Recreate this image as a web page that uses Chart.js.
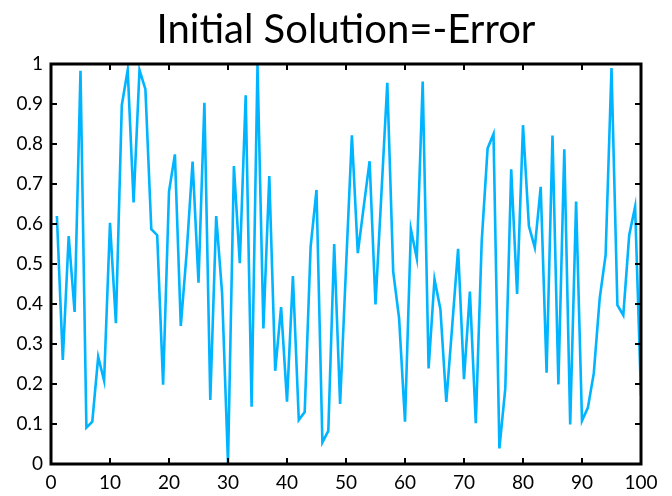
<!DOCTYPE html>
<html>
<head>
<meta charset="utf-8">
<script src="https://cdn.jsdelivr.net/npm/chart.js@4/dist/chart.umd.min.js"></script>
<style>
  html, body { margin: 0; padding: 0; background: #fff; }
  #wrap { width: 672px; height: 496px; position: relative; }
</style>
</head>
<body>
<div id="wrap"><canvas id="errChart"></canvas></div>
<script>
// iteration index (1..100) and error values
const iterations = Array.from({ length: 100 }, (_, i) => i + 1);
const errorValues = [
  0.62, 0.26, 0.57, 0.38, 0.983, 0.091, 0.106, 0.268, 0.208, 0.603,
  0.352, 0.897, 0.985, 0.654, 0.985, 0.937, 0.587, 0.572, 0.198, 0.681,
  0.774, 0.345, 0.53, 0.756, 0.453, 0.903, 0.16, 0.62, 0.427, 0.002,
  0.745, 0.502, 0.922, 0.143, 0.998, 0.339, 0.72, 0.233, 0.392, 0.156,
  0.47, 0.11, 0.13, 0.542, 0.685, 0.054, 0.083, 0.55, 0.15, 0.49,
  0.822, 0.527, 0.643, 0.757, 0.399, 0.675, 0.953, 0.481, 0.364, 0.106,
  0.587, 0.514, 0.956, 0.239, 0.462, 0.387, 0.155, 0.345, 0.538, 0.212,
  0.431, 0.102, 0.556, 0.789, 0.825, 0.039, 0.189, 0.737, 0.425, 0.847,
  0.595, 0.541, 0.693, 0.228, 0.821, 0.199, 0.787, 0.099, 0.656, 0.108,
  0.141, 0.227, 0.414, 0.522, 0.99, 0.397, 0.372, 0.572, 0.643, 0.171
];
const chartTitle = 'Initial Solution=-Error';

const fontFamily = 'Lato, "Noto Sans", sans-serif';

// box frame with inward ticks on all four sides
const framePlugin = {
  id: 'frame',
  afterDraw(chart) {
    const { ctx, chartArea: a, scales: { x, y } } = chart;
    const len = 6;
    ctx.save();
    ctx.strokeStyle = '#000';
    ctx.lineWidth = 2;
    ctx.beginPath();
    x.ticks.forEach(t => {
      if (t.value === x.min || t.value === x.max) return;
      const px = Math.round(x.getPixelForValue(t.value));
      ctx.moveTo(px, a.bottom); ctx.lineTo(px, a.bottom - len);
      ctx.moveTo(px, a.top); ctx.lineTo(px, a.top + len);
    });
    y.ticks.forEach(t => {
      if (t.value === y.min || t.value === y.max) return;
      const py = Math.round(y.getPixelForValue(t.value));
      ctx.moveTo(a.left, py); ctx.lineTo(a.left + len, py);
      ctx.moveTo(a.right, py); ctx.lineTo(a.right - len, py);
    });
    ctx.stroke();
    ctx.lineWidth = 3;
    ctx.strokeRect(a.left, a.top, a.right - a.left, a.bottom - a.top);
    ctx.restore();
  }
};

const ctx = document.getElementById('errChart').getContext('2d');
new Chart(ctx, {
  type: 'line',
  data: {
    datasets: [{
      data: iterations.map((it, i) => ({ x: it, y: errorValues[i] })),
      borderColor: '#00b4ff',
      borderWidth: 2.6,
      pointRadius: 0,
      tension: 0,
      fill: false
    }]
  },
  options: {
    responsive: true,
    maintainAspectRatio: false,
    animation: false,
    layout: { padding: { left: 0, right: 31, top: 0, bottom: 0 }, autoPadding: false },
    plugins: {
      legend: { display: false },
      tooltip: { enabled: false },
      title: {
        display: true,
        fullSize: false,
        text: chartTitle,
        color: '#000',
        font: { family: fontFamily, size: 40, weight: 'normal' },
        padding: { top: 6, bottom: 10 }
      }
    },
    scales: {
      x: {
        type: 'linear',
        min: 0,
        max: 100,
        ticks: { stepSize: 10, color: '#000', padding: 7, maxRotation: 0,
                 font: { family: fontFamily, size: 19 } },
        grid: { display: false, drawTicks: false },
        border: { display: false },
        afterFit(scale) { scale.height = 32; }
      },
      y: {
        min: 0,
        max: 1,
        ticks: { stepSize: 0.1, color: '#000', padding: 8,
                 font: { family: fontFamily, size: 19 },
                 callback: v => String(Math.round(v * 10) / 10) },
        grid: { display: false, drawTicks: false },
        border: { display: false },
        afterFit(scale) { scale.width = 51; }
      }
    }
  },
  plugins: [framePlugin]
});
</script>
</body>
</html>
